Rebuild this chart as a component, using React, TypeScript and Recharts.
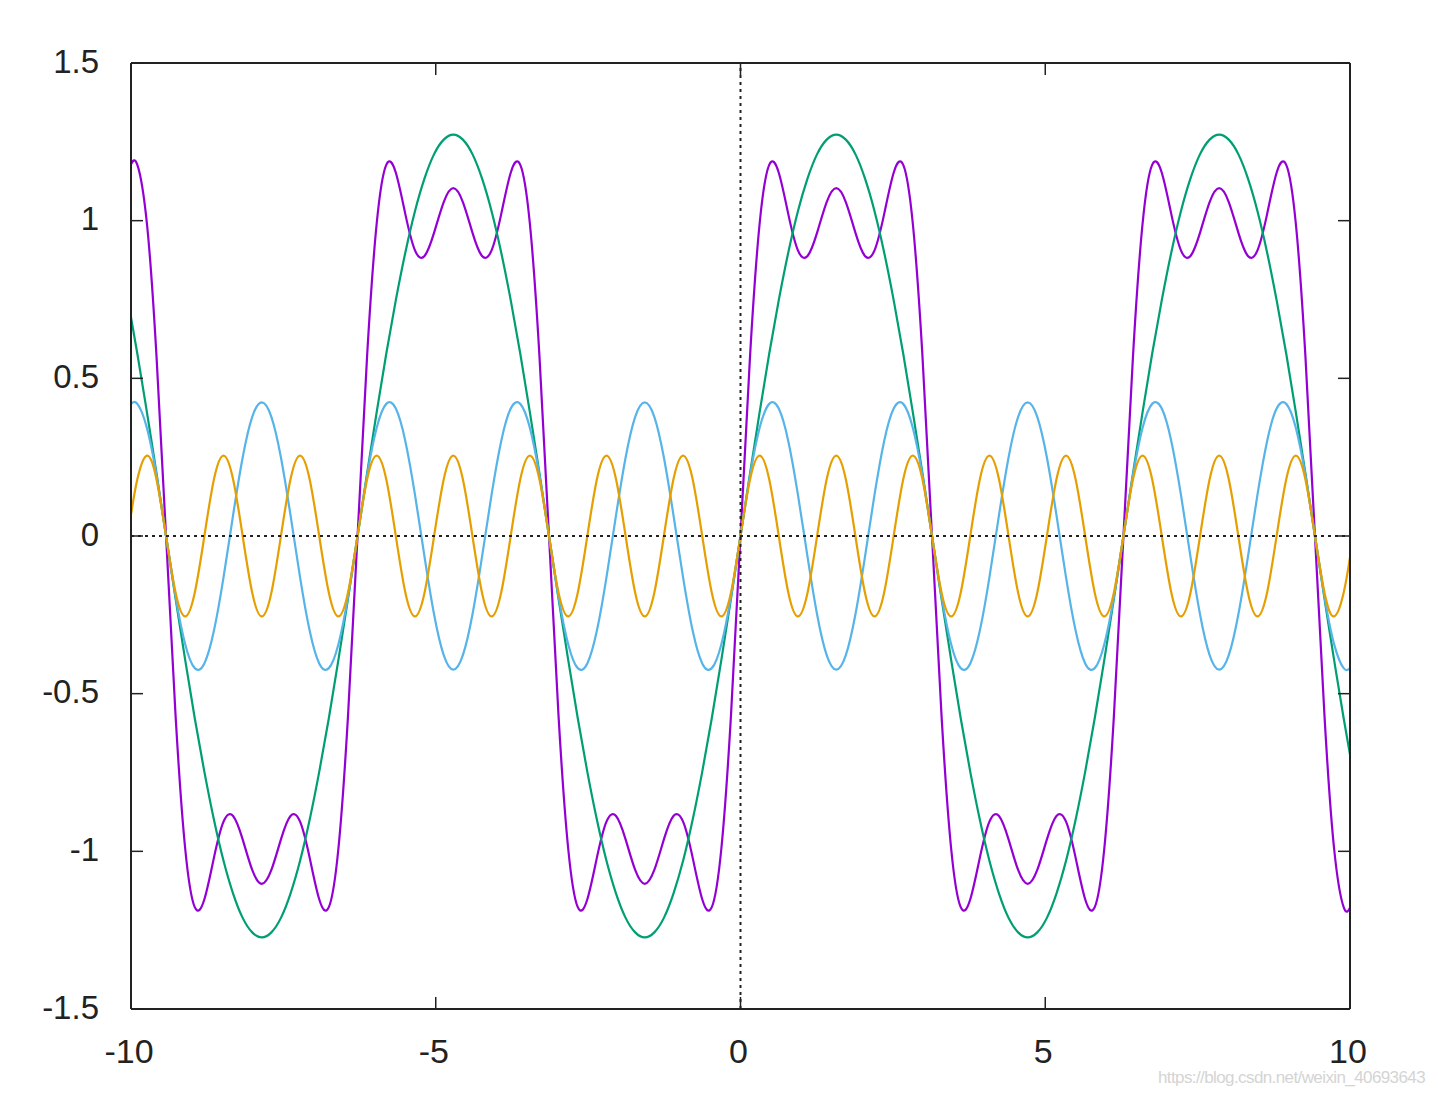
import React from 'react';
import { LineChart, Line, XAxis, YAxis, ReferenceLine } from 'recharts';

// Sample positions (x) and the four curves
const xs = [
  -10, -9.896, -9.739, -9.582, -9.425, -9.268, -9.111, -8.954, -8.796, -8.639, -8.482, -8.325, -8.168, -8.011,
  -7.854, -7.697, -7.54, -7.383, -7.226, -7.069, -6.912, -6.754, -6.597, -6.44,
  -6.283, -6.126, -5.969, -5.812, -5.655, -5.498, -5.341, -5.184, -5.027, -4.869, -4.712, -4.555, -4.398, -4.241,
  -4.084, -3.927, -3.77, -3.613, -3.456, -3.299, -3.142, -2.985, -2.827, -2.67, -2.513, -2.356, -2.199, -2.042,
  -1.885, -1.728, -1.571, -1.414, -1.257, -1.1, -0.942, -0.785, -0.628, -0.471, -0.314, -0.157,
  0, 0.157, 0.314, 0.471, 0.628, 0.785, 0.942, 1.1, 1.257, 1.414, 1.571, 1.728, 1.885, 2.042, 2.199, 2.356,
  2.513, 2.67, 2.827, 2.985, 3.142, 3.299, 3.456, 3.613, 3.77, 3.927, 4.084, 4.241, 4.398, 4.555, 4.712, 4.869,
  5.027, 5.184, 5.341, 5.498, 5.655, 5.812, 5.969, 6.126,
  6.283, 6.44, 6.597, 6.754, 6.912, 7.069, 7.226, 7.383, 7.54, 7.697, 7.854, 8.011, 8.168, 8.325, 8.482, 8.639,
  8.796, 8.954, 9.111, 9.268, 9.425, 9.582, 9.739, 9.896, 10,
];

const purple = [
  1.179, 1.177, 0.991, 0.572, 0, -0.572, -0.991, -1.177, -1.152, -1.02, -0.906, -0.888, -0.962, -1.059, -1.103,
  -1.059, -0.962, -0.888, -0.906, -1.02, -1.152, -1.177, -0.991, -0.572,
  0, 0.572, 0.991, 1.177, 1.152, 1.02, 0.906, 0.888, 0.962, 1.059, 1.103, 1.059, 0.962, 0.888, 0.906, 1.02,
  1.152, 1.177, 0.991, 0.572, 0, -0.572, -0.991, -1.177, -1.152, -1.02, -0.906, -0.888, -0.962, -1.059, -1.103,
  -1.059, -0.962, -0.888, -0.906, -1.02, -1.152, -1.177, -0.991, -0.572,
  0, 0.572, 0.991, 1.177, 1.152, 1.02, 0.906, 0.888, 0.962, 1.059, 1.103, 1.059, 0.962, 0.888, 0.906, 1.02,
  1.152, 1.177, 0.991, 0.572, 0, -0.572, -0.991, -1.177, -1.152, -1.02, -0.906, -0.888, -0.962, -1.059, -1.103,
  -1.059, -0.962, -0.888, -0.906, -1.02, -1.152, -1.177, -0.991, -0.572,
  0, 0.572, 0.991, 1.177, 1.152, 1.02, 0.906, 0.888, 0.962, 1.059, 1.103, 1.059, 0.962, 0.888, 0.906, 1.02,
  1.152, 1.177, 0.991, 0.572, 0, -0.572, -0.991, -1.177, -1.179,
];

const green = [
  0.693, 0.578, 0.393, 0.199, 0, -0.199, -0.393, -0.578, -0.748, -0.9, -1.03, -1.134, -1.211, -1.257, -1.273,
  -1.257, -1.211, -1.134, -1.03, -0.9, -0.748, -0.578, -0.393, -0.199,
  0, 0.199, 0.393, 0.578, 0.748, 0.9, 1.03, 1.134, 1.211, 1.257, 1.273, 1.257, 1.211, 1.134, 1.03, 0.9,
  0.748, 0.578, 0.393, 0.199, 0, -0.199, -0.393, -0.578, -0.748, -0.9, -1.03, -1.134, -1.211, -1.257, -1.273,
  -1.257, -1.211, -1.134, -1.03, -0.9, -0.748, -0.578, -0.393, -0.199,
  0, 0.199, 0.393, 0.578, 0.748, 0.9, 1.03, 1.134, 1.211, 1.257, 1.273, 1.257, 1.211, 1.134, 1.03, 0.9,
  0.748, 0.578, 0.393, 0.199, 0, -0.199, -0.393, -0.578, -0.748, -0.9, -1.03, -1.134, -1.211, -1.257, -1.273,
  -1.257, -1.211, -1.134, -1.03, -0.9, -0.748, -0.578, -0.393, -0.199,
  0, 0.199, 0.393, 0.578, 0.748, 0.9, 1.03, 1.134, 1.211, 1.257, 1.273, 1.257, 1.211, 1.134, 1.03, 0.9,
  0.748, 0.578, 0.393, 0.199, 0, -0.199, -0.393, -0.578, -0.693,
];

const cyan = [
  0.419, 0.419, 0.343, 0.193, 0, -0.193, -0.343, -0.419, -0.404, -0.3, -0.131, 0.066, 0.249, 0.378, 0.424,
  0.378, 0.249, 0.066, -0.131, -0.3, -0.404, -0.419, -0.343, -0.193,
  0, 0.193, 0.343, 0.419, 0.404, 0.3, 0.131, -0.066, -0.249, -0.378, -0.424, -0.378, -0.249, -0.066, 0.131, 0.3,
  0.404, 0.419, 0.343, 0.193, 0, -0.193, -0.343, -0.419, -0.404, -0.3, -0.131, 0.066, 0.249, 0.378, 0.424,
  0.378, 0.249, 0.066, -0.131, -0.3, -0.404, -0.419, -0.343, -0.193,
  0, 0.193, 0.343, 0.419, 0.404, 0.3, 0.131, -0.066, -0.249, -0.378, -0.424, -0.378, -0.249, -0.066, 0.131, 0.3,
  0.404, 0.419, 0.343, 0.193, 0, -0.193, -0.343, -0.419, -0.404, -0.3, -0.131, 0.066, 0.249, 0.378, 0.424,
  0.378, 0.249, 0.066, -0.131, -0.3, -0.404, -0.419, -0.343, -0.193,
  0, 0.193, 0.343, 0.419, 0.404, 0.3, 0.131, -0.066, -0.249, -0.378, -0.424, -0.378, -0.249, -0.066, 0.131, 0.3,
  0.404, 0.419, 0.343, 0.193, 0, -0.193, -0.343, -0.419, -0.419,
];

const orange = [
  0.067, 0.18, 0.255, 0.18, 0, -0.18, -0.255, -0.18, 0, 0.18, 0.255, 0.18, 0, -0.18, -0.255,
  -0.18, 0, 0.18, 0.255, 0.18, 0, -0.18, -0.255, -0.18,
  0, 0.18, 0.255, 0.18, 0, -0.18, -0.255, -0.18, 0, 0.18, 0.255, 0.18, 0, -0.18, -0.255, -0.18,
  0, 0.18, 0.255, 0.18, 0, -0.18, -0.255, -0.18, 0, 0.18, 0.255, 0.18, 0, -0.18, -0.255,
  -0.18, 0, 0.18, 0.255, 0.18, 0, -0.18, -0.255, -0.18,
  0, 0.18, 0.255, 0.18, 0, -0.18, -0.255, -0.18, 0, 0.18, 0.255, 0.18, 0, -0.18, -0.255, -0.18,
  0, 0.18, 0.255, 0.18, 0, -0.18, -0.255, -0.18, 0, 0.18, 0.255, 0.18, 0, -0.18, -0.255,
  -0.18, 0, 0.18, 0.255, 0.18, 0, -0.18, -0.255, -0.18,
  0, 0.18, 0.255, 0.18, 0, -0.18, -0.255, -0.18, 0, 0.18, 0.255, 0.18, 0, -0.18, -0.255, -0.18,
  0, 0.18, 0.255, 0.18, 0, -0.18, -0.255, -0.18, -0.067,
];

const xTicks = [-10, -5, 0, 5, 10];
const yTicks = [-1.5, -1, -0.5, 0, 0.5, 1, 1.5];

const data = xs.map((x, i) => ({
  x,
  purple: purple[i],
  green: green[i],
  cyan: cyan[i],
  orange: orange[i],
}));

const FONT = '"Liberation Sans", Arial, sans-serif';
const INK = '#222';
const TICK = 12;

const LeftTick = ({ x, y, payload }: any) => (
  <g>
    <line x1={x} y1={y} x2={x + TICK} y2={y} stroke={INK} strokeWidth={1.5} />
    <text x={x - 32} y={y - 2} textAnchor="end" dominantBaseline="central" fontSize={33} fontFamily={FONT} fill={INK}>
      {payload.value}
    </text>
  </g>
);

const RightTick = ({ x, y }: any) => (
  <line x1={x} y1={y} x2={x - TICK} y2={y} stroke={INK} strokeWidth={1.5} />
);

const BottomTick = ({ x, y, payload }: any) => (
  <g>
    <line x1={x} y1={y} x2={x} y2={y - TICK} stroke={INK} strokeWidth={1.5} />
    <text x={x - 2} y={y + 54} textAnchor="middle" fontSize={34} fontFamily={FONT} fill={INK}>
      {payload.value}
    </text>
  </g>
);

const TopTick = ({ x, y }: any) => (
  <line x1={x} y1={y} x2={x} y2={y + TICK} stroke={INK} strokeWidth={1.5} />
);

export default function App() {
  const axisLine = { stroke: INK, strokeWidth: 2 };
  return (
    <div style={{ position: 'absolute', left: 0, top: 0, width: 1438, height: 1094, background: '#fff', overflow: 'hidden' }}>
      <LineChart
        width={1438}
        height={1094}
        data={data}
        margin={{ top: 53, right: 78, bottom: 25, left: 51 }}
      >
        <XAxis
          dataKey="x"
          type="number"
          domain={[-10, 10]}
          ticks={xTicks}
          interval={0}
          height={60}
          tickSize={0}
          tickMargin={0}
          axisLine={axisLine}
          tick={<BottomTick />}
          allowDataOverflow
        />
        <XAxis
          xAxisId="top"
          orientation="top"
          dataKey="x"
          type="number"
          domain={[-10, 10]}
          ticks={xTicks}
          interval={0}
          height={10}
          tickSize={0}
          tickMargin={0}
          axisLine={axisLine}
          tick={<TopTick />}
          allowDataOverflow
        />
        <YAxis
          type="number"
          domain={[-1.5, 1.5]}
          ticks={yTicks}
          interval={0}
          width={80}
          tickSize={0}
          tickMargin={0}
          axisLine={axisLine}
          tick={<LeftTick />}
          allowDataOverflow
        />
        <YAxis
          yAxisId="right"
          orientation="right"
          type="number"
          domain={[-1.5, 1.5]}
          ticks={yTicks}
          interval={0}
          width={10}
          tickSize={0}
          tickMargin={0}
          axisLine={axisLine}
          tick={<RightTick />}
          allowDataOverflow
        />
        <Line type="natural" dataKey="purple" stroke="#9400d3" strokeWidth={2.2} dot={false} isAnimationActive={false} />
        <Line type="natural" dataKey="green" stroke="#009e73" strokeWidth={2.2} dot={false} isAnimationActive={false} />
        <Line type="natural" dataKey="cyan" stroke="#56b4e9" strokeWidth={2.2} dot={false} isAnimationActive={false} />
        <Line type="natural" dataKey="orange" stroke="#e69f00" strokeWidth={2.2} dot={false} isAnimationActive={false} />
        <ReferenceLine y={0} stroke={INK} strokeWidth={2} strokeDasharray="3 4" />
        <ReferenceLine x={0} stroke={INK} strokeWidth={2} strokeDasharray="3 4" />
      </LineChart>
      <div
        style={{
          position: 'absolute',
          left: 1158,
          top: 1068,
          fontFamily: FONT,
          fontSize: 17,
          lineHeight: '20px',
          letterSpacing: -0.6,
          color: '#d4d4d4',
          whiteSpace: 'nowrap',
        }}
      >
        https://blog.csdn.net/weixin_40693643
      </div>
    </div>
  );
}
